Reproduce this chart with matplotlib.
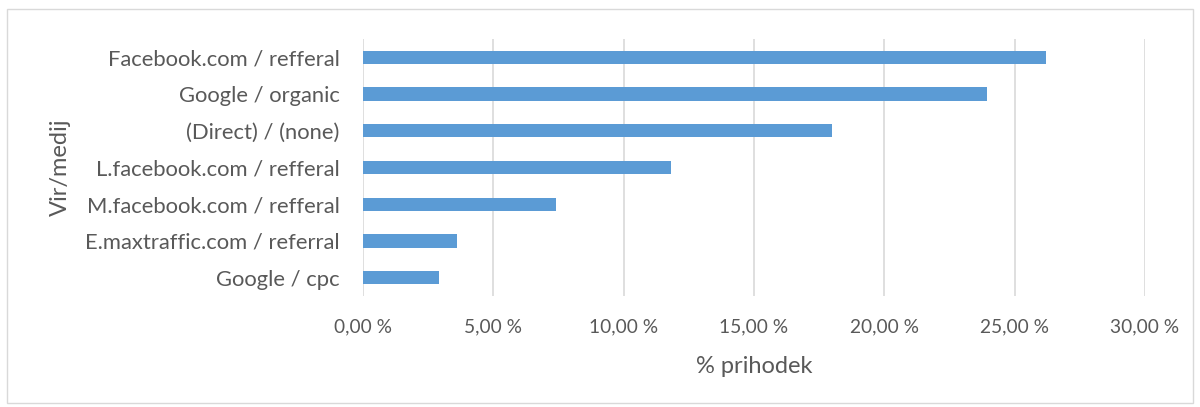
import matplotlib.pyplot as plt
from matplotlib.ticker import FuncFormatter, MultipleLocator
from matplotlib.patches import Rectangle

# podatki
viri = ['Facebook.com / refferal', 'Google / organic', '(Direct) / (none)',
        'L.facebook.com / refferal', 'M.facebook.com / refferal',
        'E.maxtraffic.com / referral', 'Google / cpc']
prihodek = [26.2, 23.93, 18.0, 11.8, 7.40, 3.61, 2.92]

plt.rcParams['font.family'] = ['Lato', 'DejaVu Sans']
siva = '#595959'

fig = plt.figure(figsize=(12, 4.07), dpi=100)
ax = fig.add_axes([0.3025, 0.2728, 0.6515, 0.6314])

pos = list(range(len(viri)))[::-1]
ax.barh(pos, prihodek, height=0.36, color='#5B9BD5', zorder=3)

ax.set_xlim(0, 30)
ax.set_ylim(-0.5, len(viri) - 0.5)
ax.xaxis.set_major_locator(MultipleLocator(5))
ax.xaxis.set_major_formatter(FuncFormatter(lambda v, p: ('%.2f' % v).replace('.', ',') + ' %'))
ax.set_yticks(pos)
ax.set_yticklabels(viri)

ax.grid(axis='x', color='#D9D9D9', linewidth=1.2, zorder=0)
for s in ax.spines.values():
    s.set_visible(False)
ax.tick_params(length=0, colors=siva)
ax.tick_params(axis='y', labelsize=15.8, pad=17)
ax.tick_params(axis='x', labelsize=13.8, pad=16)

ax.set_xlabel('% prihodek', fontsize=17, color=siva)
ax.set_ylabel('Vir/medij', fontsize=17, color=siva)
ax.xaxis.set_label_coords(0.5, -0.232)
ax.yaxis.set_label_coords(-0.373, 0.5)

# okvir grafikona
fig.patches.append(Rectangle((7 / 1200, 4 / 407), 1186 / 1200, 394 / 407,
                             transform=fig.transFigure, fill=False,
                             edgecolor='#D9D9D9', linewidth=1))

fig.savefig('out.png', dpi=100)
